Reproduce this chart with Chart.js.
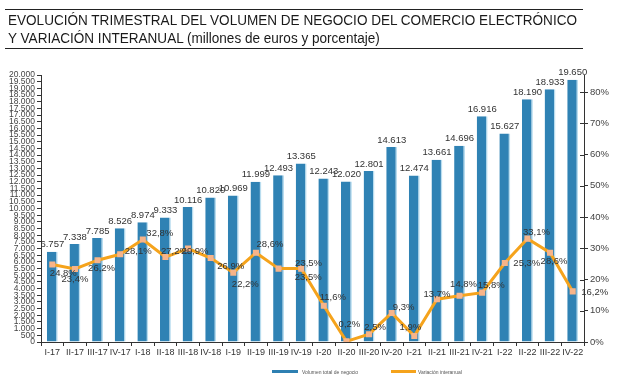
<!DOCTYPE html>
<html>
<head>
<meta charset="utf-8">
<script src="https://cdn.jsdelivr.net/npm/chart.js@4.4.1/dist/chart.umd.min.js"></script>
<style>
  html, body { margin:0; padding:0; background:#fff; }
  #wrap { position:relative; width:625px; height:381px; overflow:hidden; font-family:"Liberation Sans", Arial, sans-serif; }
  #cv { position:absolute; left:0; top:0; }
  .rule { position:absolute; left:5px; width:578px; height:1px; background:#222; }
  #title { position:absolute; left:8px; top:11px; font-size:14px; line-height:18px; color:#1a1a1a; white-space:nowrap; transform-origin:0 0; }
  .lg { position:absolute; height:3px; }
  .lgt { position:absolute; font-size:5px; color:#555; line-height:6px; white-space:nowrap; }
</style>
</head>
<body>
<div id="wrap">
  <canvas id="cv" width="625" height="381"></canvas>
  <div class="rule" style="top:9px"></div>
  <div id="title"><span id="t1">EVOLUCIÓN TRIMESTRAL DEL VOLUMEN DE NEGOCIO DEL COMERCIO ELECTRÓNICO</span><br>Y VARIACIÓN INTERANUAL (millones de euros y porcentaje)</div>
  <div class="rule" style="top:48px"></div>
  <div class="lg" style="left:272px; top:370px; width:26px; background:#2e80b2;"></div>
  <div class="lgt" style="left:302px; top:368.5px;">Volumen total de negocio</div>
  <div class="lg" style="left:391px; top:370px; width:25px; background:#f5a31c;"></div>
  <div class="lgt" style="left:418px; top:368.5px;">Variación interanual</div>
</div>
<script>
const categories = ["I-17","II-17","III-17","IV-17","I-18","II-18","III-18","IV-18","I-19","II-19","III-19","IV-19","I-20","II-20","III-20","IV-20","I-21","II-21","III-21","IV-21","I-22","II-22","III-22","IV-22"];
const volumen = [6757,7338,7785,8526,8974,9333,10116,10820,10969,11999,12493,13365,12243,12020,12801,14613,12474,13661,14696,16916,15627,18190,18933,19650];
const variacion = [24.8,23.4,26.2,28.1,32.8,27.2,29.9,26.9,22.2,28.6,23.5,23.5,11.6,0.2,2.5,9.3,1.9,13.7,14.8,15.8,25.3,33.1,28.6,16.2];
const volumenTicks = { min: 0, max: 20000, step: 500 };
const variacionTicks = { min: 0, max: 80, step: 10 };

// label offsets (pixels) for the percentage labels, relative to each point
const pctDx = [11,0,4,18,17,9,7,20,12,14,30,7,9,3,6,12,-4,0,4,9,22,9,4,22];
const pctDy = [9,10,8,-3,-6,-6,3,8,12,-8,-5,9,-8,-17,-7,-6,-9,-5,-11,-7,0,-6,9,1];

// fit the title's first line to the reference width
(function(){
  const t1 = document.getElementById('t1');
  const w = t1.getBoundingClientRect().width;
  if (w > 0) document.getElementById('title').style.transform = 'scaleX(' + (569 / w) + ')';
})();

function fmtThousands(n){ return String(n).replace(/\B(?=(\d{3})+(?!\d))/g, "."); }
function fmtPct(v){ return v.toFixed(1).replace(".", ",") + "%"; }

const labelPlugin = {
  id: 'labels',
  afterDatasetsDraw(chart){
    const ctx = chart.ctx;
    ctx.save();
    ctx.font = '9.5px "Liberation Sans", Arial, sans-serif';
    ctx.fillStyle = '#333';
    ctx.textAlign = 'center';
    ctx.textBaseline = 'middle';
    const barMeta = chart.getDatasetMeta(0);
    barMeta.data.forEach((el, i) => {
      ctx.fillText(fmtThousands(volumen[i]), el.x, el.y - 7);
    });
    const lineMeta = chart.getDatasetMeta(1);
    lineMeta.data.forEach((el, i) => {
      ctx.fillText(fmtPct(variacion[i]), el.x + pctDx[i], el.y + pctDy[i]);
    });
    // inner half of the right axis cross ticks
    const y1 = chart.scales.y1;
    ctx.strokeStyle = '#333';
    ctx.lineWidth = 1;
    y1.ticks.forEach(t => {
      const yy = Math.round(y1.getPixelForValue(t.value)) + 0.5;
      ctx.beginPath();
      ctx.moveTo(y1.left - 4, yy);
      ctx.lineTo(y1.left, yy);
      ctx.stroke();
    });
    ctx.restore();
  }
};

new Chart(document.getElementById('cv'), {
  data: {
    labels: categories,
    datasets: [
      {
        type: 'bar',
        label: 'Volumen total de negocio',
        data: volumen,
        yAxisID: 'y',
        backgroundColor: '#2f82b4',
        borderColor: '#b9ddef',
        borderWidth: { right: 1.5, left: 0, top: 0, bottom: 0 },
        borderSkipped: false,
        barPercentage: 0.48,
        categoryPercentage: 1.0,
        order: 2
      },
      {
        type: 'line',
        label: 'Variación interanual',
        data: variacion,
        yAxisID: 'y1',
        borderColor: '#f5a31c',
        borderWidth: 3,
        pointStyle: 'rect',
        pointRadius: 4.3,
        pointBackgroundColor: '#f7b489',
        pointBorderWidth: 0,
        tension: 0,
        order: 1
      }
    ]
  },
  options: {
    responsive: false,
    animation: false,
    devicePixelRatio: 1,
    layout: { padding: { top: 75, left: 0, right: 0, bottom: 0 } },
    plugins: { legend: { display: false }, tooltip: { enabled: false } },
    scales: {
      x: {
        offset: true,
        grid: { display: true, drawOnChartArea: false, drawTicks: true, tickLength: 4, offset: true, color: '#333' },
        border: { display: true, color: '#333' },
        ticks: { font: { family: '"Liberation Sans", Arial, sans-serif', size: 9 }, color: '#333', padding: 1.5, maxRotation: 0, autoSkip: false },
        afterFit(s){ s.height = 39; }
      },
      y: {
        position: 'left',
        min: volumenTicks.min, max: volumenTicks.max,
        grid: { drawOnChartArea: false, drawTicks: true, tickLength: 4, color: '#333' },
        border: { display: true, color: '#333' },
        ticks: {
          stepSize: volumenTicks.step, autoSkip: false,
          font: { family: '"Liberation Sans", Arial, sans-serif', size: 8.5 }, color: '#444', padding: 2,
          callback: v => fmtThousands(v)
        },
        afterFit(s){ s.width = 41; }
      },
      y1: {
        position: 'right',
        min: variacionTicks.min, max: 85.5,
        grid: { drawOnChartArea: false, drawTicks: true, tickLength: 4, color: '#333' },
        border: { display: true, color: '#333' },
        ticks: {
          stepSize: variacionTicks.step, autoSkip: false,
          font: { family: '"Liberation Sans", Arial, sans-serif', size: 9.5 }, color: '#444', padding: 2,
          callback: v => v + '%'
        },
        afterBuildTicks(s){ s.ticks = s.ticks.filter(t => t.value % variacionTicks.step === 0 && t.value <= variacionTicks.max); },
        afterFit(s){ s.width = 41; }
      }
    }
  },
  plugins: [labelPlugin]
});
</script>
</body>
</html>
